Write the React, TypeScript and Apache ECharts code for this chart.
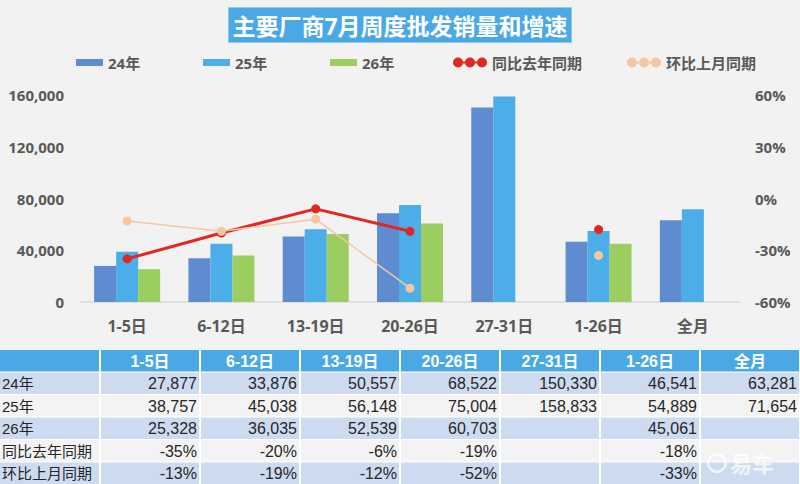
import * as echarts from "echarts";
import { useEffect, useRef } from "react";

const categories = ["1-5日", "6-12日", "13-19日", "20-26日", "27-31日", "1-26日", "全月"];
const sales24 = [27877, 33876, 50557, 68522, 150330, 46541, 63281];
const sales25 = [38757, 45038, 56148, 75004, 158833, 54889, 71654];
const sales26 = [25328, 36035, 52539, 60703, null, 45061, null];
const yoy = [-35, -20, -6, -19, null, -18, null];
const mom = [-13, -19, -12, -52, null, -33, null];
const tableRows = ["24年", "25年", "26年", "同比去年同期", "环比上月同期"];

const FONT = "'Open Sans', 'Noto Sans CJK SC', sans-serif";
const TABLE_FONT = "'Liberation Sans', 'Noto Sans CJK SC', sans-serif";
const C24 = "#5f8bd0";
const C25 = "#4baee8";
const C26 = "#9ccd60";
const CRED = "#e3261f";
const CPEACH = "#f5c7a0";
const DOTS =
  "path://M4,4H30V6H4Z M0,5A5,5,0,1,1,10,5A5,5,0,1,1,0,5Z M12,5A5,5,0,1,1,22,5A5,5,0,1,1,12,5Z M24,5A5,5,0,1,1,34,5A5,5,0,1,1,24,5Z";

function buildTable() {
  const fmt = (v: number | null) => (v == null ? "" : v.toLocaleString("en-US"));
  const pct = (v: number | null) => (v == null ? "" : v + "%");
  const rowValues = [sales24.map(fmt), sales25.map(fmt), sales26.map(fmt), yoy.map(pct), mom.map(pct)];
  const top = 350;
  const rowH = 22.5;
  const colW = 100;
  const children: any[] = [
    { type: "rect", shape: { x: 0, y: top - 1, width: 800, height: 140 }, style: { fill: "#ffffff" } },
  ];
  // header row
  for (let c = 0; c < 8; c++) {
    children.push({
      type: "rect",
      shape: { x: c * colW + (c ? 1 : 0), y: top, width: colW - (c ? 1 : 0) - 1, height: rowH - 1 },
      style: { fill: "#4aa9e4" },
    });
    if (c > 0) {
      children.push({
        type: "text",
        x: c * colW + colW / 2,
        y: top + rowH / 2,
        style: {
          text: categories[c - 1],
          fill: "#ffffff",
          font: `bold 16px ${TABLE_FONT}`,
          align: "center",
          verticalAlign: "middle",
        },
      });
    }
  }
  tableRows.forEach((label, r) => {
    const y = top + rowH * (r + 1);
    const fill = r % 2 === 0 ? "#cddbf0" : "#f3f3f3";
    for (let c = 0; c < 8; c++) {
      children.push({
        type: "rect",
        shape: { x: c * colW + (c ? 1 : 0), y, width: colW - (c ? 1 : 0) - 1, height: rowH - 1 },
        style: { fill },
      });
    }
    children.push({
      type: "text",
      x: 2,
      y: y + rowH / 2,
      style: { text: label, fill: "#262626", font: `15px ${TABLE_FONT}`, align: "left", verticalAlign: "middle" },
    });
    rowValues[r].forEach((t, c) => {
      if (!t) return;
      children.push({
        type: "text",
        x: (c + 2) * colW - 3,
        y: y + rowH / 2,
        style: { text: t, fill: "#262626", font: `16px ${TABLE_FONT}`, align: "right", verticalAlign: "middle" },
      });
    });
  });
  // watermark
  children.push(
    {
      type: "ring",
      shape: { cx: 717, cy: 463, r: 10, r0: 7.5 },
      style: { fill: "rgba(255,255,255,0.7)" },
    },
    {
      type: "text",
      x: 730,
      y: 463,
      style: {
        text: "易车",
        fill: "rgba(255,255,255,0.7)",
        font: `bold 22px ${FONT}`,
        verticalAlign: "middle",
      },
    }
  );
  return children;
}

export default function App() {
  const ref = useRef<HTMLDivElement>(null);

  useEffect(() => {
    const chart = echarts.init(ref.current!, null, { renderer: "svg" });
    const legendText = { fontFamily: FONT, fontSize: 15, fontWeight: "bold" as const, color: "#595959" };
    const legendAt = (name: string, left: number, wide: boolean) => ({
      data: [name],
      left,
      top: 50,
      selectedMode: false,
      itemWidth: wide ? 34 : 27,
      itemHeight: wide ? 10 : 7,
      itemGap: 4,
      icon: wide ? DOTS : "rect",
      textStyle: legendText,
    });
    const axisLabel = { fontFamily: FONT, fontSize: 15, fontWeight: "bold" as const, color: "#595959" };

    chart.setOption({
      animation: false,
      backgroundColor: "#f2f2f2",
      title: {
        text: "主要厂商7月周度批发销量和增速",
        left: "center",
        top: 7,
        padding: [7, 4, 6, 4],
        backgroundColor: "#4aa9e4",
        borderColor: "#8fcbee",
        borderWidth: 1,
        textStyle: { color: "#ffffff", fontSize: 23, fontWeight: "bold", fontFamily: FONT },
      },
      legend: [
        legendAt("24年", 71, false),
        legendAt("25年", 198, false),
        legendAt("26年", 325, false),
        legendAt("同比去年同期", 448, true),
        legendAt("环比上月同期", 622, true),
      ],
      grid: { left: 80, right: 60, top: 95, bottom: 182 },
      xAxis: {
        type: "category",
        data: categories,
        axisTick: { show: false },
        axisLine: { lineStyle: { color: "#d9d9d9", width: 1.5 } },
        axisLabel: { ...axisLabel, fontSize: 16, margin: 16 },
      },
      yAxis: [
        {
          type: "value",
          min: 0,
          max: 160000,
          interval: 40000,
          splitLine: { show: false },
          axisLabel: {
            ...axisLabel,
            margin: 16,
            formatter: (v: number) => v.toLocaleString("en-US"),
          },
        },
        {
          type: "value",
          min: -60,
          max: 60,
          interval: 30,
          splitLine: { show: false },
          axisLabel: { ...axisLabel, margin: 15, formatter: "{value}%" },
        },
      ],
      series: [
        { name: "24年", type: "bar", data: sales24, barWidth: 22, barGap: "0%", itemStyle: { color: C24 } },
        { name: "25年", type: "bar", data: sales25, barWidth: 22, barGap: "0%", itemStyle: { color: C25 } },
        { name: "26年", type: "bar", data: sales26, barWidth: 22, barGap: "0%", itemStyle: { color: C26 } },
        {
          name: "同比去年同期",
          type: "line",
          yAxisIndex: 1,
          data: yoy,
          symbol: "circle",
          symbolSize: 9,
          showAllSymbol: true,
          lineStyle: { color: CRED, width: 3 },
          itemStyle: { color: CRED },
        },
        {
          name: "环比上月同期",
          type: "line",
          yAxisIndex: 1,
          data: mom,
          symbol: "circle",
          symbolSize: 9,
          showAllSymbol: true,
          lineStyle: { color: CPEACH, width: 1.5 },
          itemStyle: { color: CPEACH },
        },
      ],
      graphic: buildTable(),
    });
    return () => chart.dispose();
  }, []);

  return (
    <div
      ref={ref}
      style={{ position: "fixed", left: 0, top: 0, width: 800, height: 484, background: "#f2f2f2" }}
    />
  );
}
